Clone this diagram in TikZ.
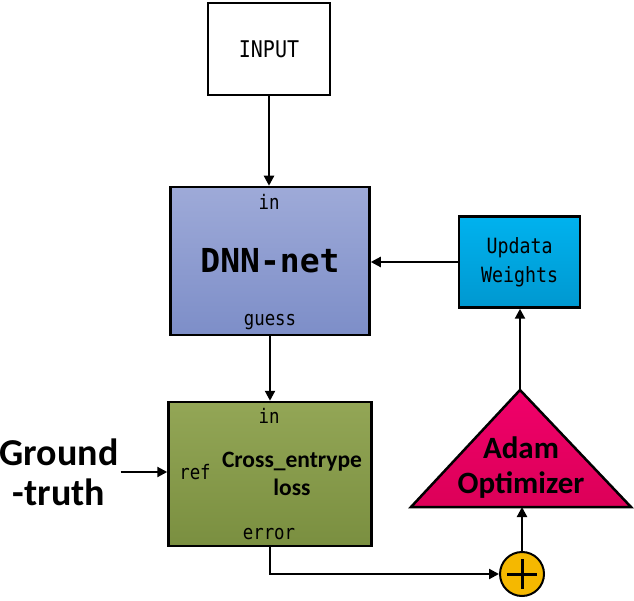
\documentclass[tikz,border=0pt]{standalone}
\usepackage{fontspec}
\setmainfont{Carlito}
\newfontfamily\monof[FakeStretch=0.87]{DejaVu Sans Mono}
\newfontfamily\monobig{DejaVu Sans Mono}
\usetikzlibrary{arrows.meta}
\definecolor{dnnTop}{HTML}{9EAAD8}
\definecolor{dnnBot}{HTML}{7D8EC8}
\definecolor{crTop}{HTML}{93A656}
\definecolor{crBot}{HTML}{7A8F40}
\definecolor{upTop}{HTML}{00B2EE}
\definecolor{upBot}{HTML}{0098D0}
\definecolor{adTop}{HTML}{F0006A}
\definecolor{adBot}{HTML}{DC0058}
\definecolor{sumFill}{HTML}{F5B800}
\begin{document}
\begin{tikzpicture}[x=1pt,y=-1pt,
  box/.style={draw=black, line width=2.5pt, inner sep=0pt},
  conn/.style={line width=2.2pt, -{Triangle[length=10pt,width=10pt]}},
  port/.style={font=\monof\fontsize{20}{20}\selectfont, inner sep=0pt},
  boldlbl/.style={font=\bfseries\fontsize{#1}{#1}\selectfont, align=center, inner sep=0pt}]
\useasboundingbox (0,0) rectangle (634,601);

% INPUT
\node[box, fill=white, minimum width=122pt, minimum height=92pt,
      font=\monof\fontsize{23}{23}\selectfont] (input) at (269,49) {INPUT};

% DNN-net
\node[box, top color=dnnTop, bottom color=dnnBot, minimum width=199pt, minimum height=148pt,
      font=\monobig\bfseries\fontsize{33}{33}\selectfont] (dnn) at (270,261) {DNN-net};
\node[port] (dnnin) at (269,202) {in};
\node[port] (dnnguess) at (270,322) {guess};

% Cross entropy loss
\node[box, top color=crTop, bottom color=crBot, minimum width=203pt, minimum height=144pt] (cross) at (270,474) {};
\node[boldlbl=23.5] (crosslbl) at (292,474) {Cross\_entrype\\[4pt]loss};
\node[port] (crin) at (269,416) {in};
\node[port] (crref) at (195,472) {ref};
\node[port] (crerr) at (269,534) {error};

% Ground truth
\node[boldlbl=38] (gt) at (59,472) {Ground\\[2pt]-truth};

% Update weights
\node[box, top color=upTop, bottom color=upBot, minimum width=121pt, minimum height=91pt,
      font=\monof\fontsize{21}{29}\selectfont, align=center] (update) at (519.5,262) {Updata\\Weights};

% Adam optimizer triangle
\coordinate (tapex) at (520,390);
\coordinate (tbase) at (521,507);
\path[draw=black, line width=2.5pt, top color=adTop, bottom color=adBot, line join=miter]
  (tapex) -- (631,507) -- (411,507) -- cycle;
\node[boldlbl=31] (adam) at (521,468) {Adam\\[4pt]Optimizer};

% summation
\node[circle, draw=black, line width=2pt, fill=sumFill, minimum size=44pt, inner sep=0pt] (sum) at (522,574) {};
\draw[line width=3pt] ([xshift=-15pt]sum.center) -- ([xshift=15pt]sum.center);
\draw[line width=3pt] ([yshift=-15pt]sum.center) -- ([yshift=15pt]sum.center);

% connectors
\draw[conn] (input.south) -- (input.south |- dnn.north);
\draw[conn] (dnn.south) -- (cross.north);
\draw[conn] (update.west) -- (update.west -| dnn.east);
\draw[conn] (tapex) -- (tapex |- update.south);
\draw[conn] (sum.north) -- (sum.north |- tbase);
\draw[conn] (gt.east |- crref) ++(2,0) -- (cross.west |- crref);
\draw[conn] (cross.south) |- (sum.west);
\end{tikzpicture}
\end{document}
